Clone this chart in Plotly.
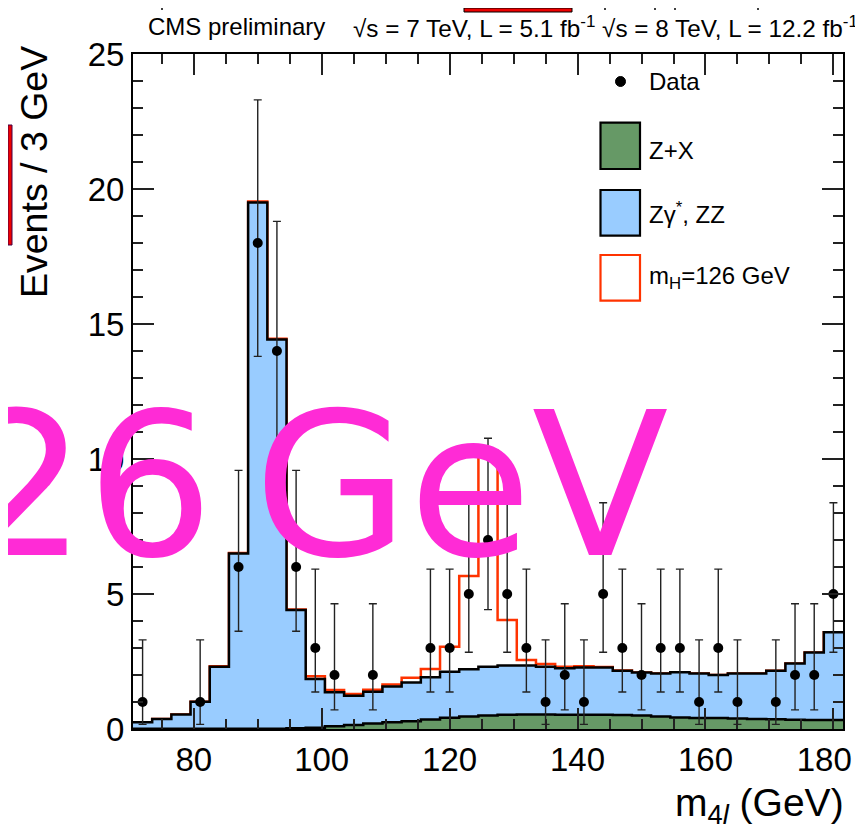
import plotly.graph_objects as go

# ---------------- data ----------------
bin_centers = [72, 75, 78, 81, 84, 87, 90, 93, 96, 99, 102, 105, 108, 111, 114, 117, 120,
               123, 126, 129, 132, 135, 138, 141, 144, 147, 150, 153, 156, 159, 162, 165,
               168, 171, 174, 177, 180]
bin_width = 3.0

data_counts = [1, 0, 0, 1, 0, 6, 18, 14, 6, 3, 2, 0, 2, 0, 0, 3, 3, 5, 7, 5, 3, 1, 2, 1,
               5, 3, 2, 3, 3, 1, 3, 1, 0, 1, 2, 2, 5]
data_low = [0.17, 0, 0, 0.17, 0, 3.62, 13.8, 10.3, 3.62, 1.37, 0.71, 0, 0.71, 0, 0, 1.37,
            1.37, 2.84, 4.42, 2.84, 1.37, 0.17, 0.71, 0.17, 2.84, 1.37, 0.71, 1.37, 1.37,
            0.17, 1.37, 0.17, 0, 0.17, 0.71, 0.71, 2.84]
data_high = [3.30, 0, 0, 3.30, 0, 9.58, 23.3, 18.8, 9.58, 5.92, 4.64, 0, 4.64, 0, 0, 5.92,
             5.92, 8.38, 10.77, 8.38, 5.92, 3.30, 4.64, 3.30, 8.38, 5.92, 4.64, 5.92, 5.92,
             3.30, 5.92, 3.30, 0, 3.30, 4.64, 4.64, 8.38]

zx = [0.01, 0.01, 0.01, 0.01, 0.01, 0.01, 0.01, 0.01, 0.03, 0.05, 0.10, 0.15, 0.20, 0.25,
      0.29, 0.35, 0.42, 0.46, 0.50, 0.53, 0.54, 0.54, 0.53, 0.53, 0.53, 0.52, 0.50, 0.46,
      0.43, 0.41, 0.41, 0.39, 0.37, 0.36, 0.34, 0.33, 0.33]
zz = [0.24, 0.36, 0.53, 1.00, 2.30, 6.49, 19.49, 14.42, 4.38, 1.80, 1.26, 1.08, 1.18, 1.32,
      1.43, 1.57, 1.70, 1.75, 1.81, 1.82, 1.81, 1.77, 1.72, 1.75, 1.75, 1.64, 1.59, 1.60,
      1.67, 1.65, 1.59, 1.67, 1.69, 1.80, 2.09, 2.50, 3.25]
higgs = [0, 0, 0, 0, 0.01, 0.02, 0.04, 0.02, 0.02, 0.10, 0.08, 0.07, 0.07, 0.08, 0.18,
         0.30, 0.93, 3.46, 8.00, 1.69, 0.21, 0.10, 0.06, 0.04, 0.02, 0.01, 0, 0, 0, 0, 0,
         0, 0, 0, 0, 0, 0]

x_ticks = [80, 100, 120, 140, 160, 180]
x_ticklabels = ["80", "100", "120", "140", "160", "180\u2007"]
y_ticks = [0, 5, 10, 15, 20, 25]

# ---------------- derived ----------------
edges = [c - bin_width / 2 for c in bin_centers] + [bin_centers[-1] + bin_width / 2]
bkg_total = [a + b for a, b in zip(zx, zz)]
sig_total = [a + b for a, b in zip(bkg_total, higgs)]


def step(vals):
    return vals + [vals[-1]]


FONT = "Liberation Sans, Arial, Helvetica, sans-serif"
BLUE = "#99CCFF"
GREEN = "#669966"
RED = "#FF3300"

fig = go.Figure()

# signal on top of the background (drawn first so black contour stays on top)
fig.add_trace(go.Scatter(x=edges, y=step(sig_total), mode="lines", line_shape="hv",
                         line=dict(color=RED, width=2.5), hoverinfo="skip", showlegend=False))
# ZZ + Z+X stack
fig.add_trace(go.Scatter(x=edges, y=step(bkg_total), mode="lines", line_shape="hv",
                         fill="tozeroy", fillcolor=BLUE,
                         line=dict(color="black", width=2.5), hoverinfo="skip", showlegend=False))
# Z+X
fig.add_trace(go.Scatter(x=edges, y=step(zx), mode="lines", line_shape="hv",
                         fill="tozeroy", fillcolor=GREEN,
                         line=dict(color="black", width=2.5), hoverinfo="skip", showlegend=False))

# data points
px, py, ep, em = [], [], [], []
for c, n, lo, hi in zip(bin_centers, data_counts, data_low, data_high):
    if n > 0:
        px.append(c)
        py.append(n)
        ep.append(hi - n)
        em.append(n - lo)
fig.add_trace(go.Scatter(x=px, y=py, mode="markers",
                         marker=dict(color="black", size=10),
                         error_y=dict(type="data", symmetric=False, array=ep, arrayminus=em,
                                      color="#222222", thickness=1.4, width=4),
                         showlegend=False))

# page has an 8px body margin: size the figure so the plot lands where the reference has it
OFF = 8
W, H = 863 - OFF, 829 - OFF
# plot frame in reference (window) pixels: x 133..843, y 54..729
L, R, T, B = 133 - OFF, 863 - 843, 54 - OFF, 829 - 729
pw, ph = W - L - R, H - T - B


def pxx(x):
    """window x pixel -> paper x"""
    return (x - OFF - L) / pw


def pxy(y):
    """window y pixel -> paper y"""
    return (H - B - (y - OFF)) / ph


shapes = []
annotations = []

# legend (drawn by hand, ROOT style)
shapes.append(dict(type="circle", xref="paper", yref="paper",
                   x0=pxx(615.5), x1=pxx(625.5), y0=pxy(86.5), y1=pxy(76.5),
                   fillcolor="black", line=dict(color="black", width=1)))
for (y0, y1, fc, lc) in [(122.7, 169.0, GREEN, "black"),
                         (190.0, 235.7, BLUE, "black"),
                         (255.0, 300.7, "white", RED)]:
    shapes.append(dict(type="rect", xref="paper", yref="paper",
                       x0=pxx(600.5), x1=pxx(640), y0=pxy(y1), y1=pxy(y0),
                       fillcolor=fc, line=dict(color=lc, width=2.2)))
for txt, yy in [("Data", 82), ("Z+X", 150), ("Zγ<sup>*</sup>, ZZ", 213),
                ("m<sub>H</sub>=126 GeV", 277)]:
    annotations.append(dict(text=txt, xref="paper", yref="paper", x=pxx(647), y=pxy(yy),
                            xanchor="left", yanchor="middle", showarrow=False,
                            font=dict(family=FONT, size=24, color="black")))

# header texts
annotations.append(dict(text="CMS preliminary", xref="paper", yref="paper",
                        x=pxx(146), y=pxy(27), xanchor="left", yanchor="middle",
                        showarrow=False, font=dict(family=FONT, size=24, color="black")))
annotations.append(dict(text="√s = 7 TeV, L = 5.1 fb<sup>-1</sup> √s = 8 TeV, L = 12.2 fb<sup>-1</sup>",
                        xref="paper", yref="paper", x=pxx(351), y=pxy(27), xanchor="left",
                        yanchor="middle", showarrow=False,
                        font=dict(family=FONT, size=24.3, color="black")))

# axis titles
annotations.append(dict(text="m<sub>4<i>l</i></sub> (GeV)", xref="paper", yref="paper",
                        x=pxx(846), y=pxy(805), xanchor="right", yanchor="middle",
                        showarrow=False, font=dict(family=FONT, size=39, color="black")))
annotations.append(dict(text="Events / 3 GeV", xref="paper", yref="paper",
                        x=pxx(34), y=pxy(44), xanchor="center", yanchor="top",
                        textangle=-90, showarrow=False,
                        font=dict(family=FONT, size=37.5, color="black")))

# overlay text
annotations.append(dict(text="126\u2009GeV", xref="paper", yref="paper",
                        x=pxx(671), y=pxy(485), xanchor="right", yanchor="middle",
                        showarrow=False,
                        font=dict(family="DejaVu Sans", size=200, color="#FF2BD6")))

# stray fragments of a neighbouring figure
for xx in [162, 605, 655, 675, 758]:
    shapes.append(dict(type="line", xref="paper", yref="paper", x0=pxx(xx), x1=pxx(xx),
                       y0=pxy(OFF), y1=pxy(10), line=dict(color="black", width=1.5)))
shapes.append(dict(type="rect", xref="paper", yref="paper", x0=pxx(464), x1=pxx(572),
                   y0=pxy(12), y1=pxy(OFF), fillcolor="#EE0000",
                   line=dict(color="black", width=1)))
shapes.append(dict(type="rect", xref="paper", yref="paper", x0=pxx(OFF), x1=pxx(12),
                   y0=pxy(245), y1=pxy(125), fillcolor="#EE0000",
                   line=dict(color="#440044", width=1)))

tick_common = dict(ticks="inside", ticklen=21, tickwidth=1.5, tickcolor="#222222",
                   showgrid=False, zeroline=False, automargin=False)

fig.update_layout(
    width=W, height=H,
    margin=dict(l=L, r=R, t=T, b=B, autoexpand=False),
    paper_bgcolor="white", plot_bgcolor="white",
    showlegend=False,
    xaxis=dict(range=[edges[0], edges[-1]], tickvals=x_ticks, ticktext=x_ticklabels,
               ticklabeloverflow="allow",
               showline=True, linecolor="black", linewidth=2, mirror=True,
               tickfont=dict(family=FONT, size=33, color="black"),
               minor=dict(ticks="inside", ticklen=10, dtick=5, tickwidth=1.5,
                          tickcolor="#222222", showgrid=False),
               **tick_common),
    yaxis=dict(range=[0, 25], tickvals=y_ticks,
               showline=True, linecolor="black", linewidth=2, mirror=True,
               tickfont=dict(family=FONT, size=33, color="black"),
               minor=dict(ticks="inside", ticklen=10, dtick=1, tickwidth=1.5,
                          tickcolor="#222222", showgrid=False),
               **tick_common),
    xaxis2=dict(range=[edges[0], edges[-1]], tickvals=x_ticks, overlaying="x",
                side="top", showticklabels=False, anchor="y",
                minor=dict(ticks="inside", ticklen=10, dtick=5, tickwidth=1.5,
                           tickcolor="#222222", showgrid=False),
                **tick_common),
    yaxis2=dict(range=[0, 25], tickvals=y_ticks, overlaying="y",
                side="right", showticklabels=False, anchor="x",
                minor=dict(ticks="inside", ticklen=10, dtick=1, tickwidth=1.5,
                           tickcolor="#222222", showgrid=False),
                **tick_common),
    shapes=shapes,
    annotations=annotations,
)

# an invisible trace so the mirrored tick axes are drawn
fig.add_trace(go.Scatter(x=[edges[0]], y=[0], xaxis="x2", yaxis="y2", mode="markers",
                         marker=dict(opacity=0), hoverinfo="skip", showlegend=False))

fig.write_html("out.html")
